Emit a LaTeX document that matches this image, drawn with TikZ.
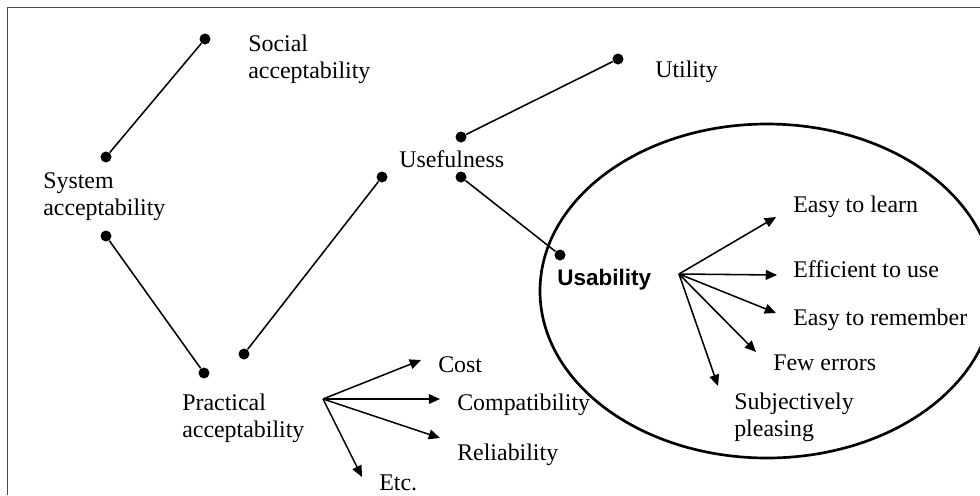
\documentclass[tikz,border=0pt]{standalone}
\usepackage{fontspec}
\setmainfont{Liberation Serif}
\newfontfamily\usabfont{Liberation Sans}
\usetikzlibrary{arrows.meta,shapes,calc}

\begin{document}
\begin{tikzpicture}[x=0.025cm, y=-0.025cm,
    dot/.style={circle, fill, inner sep=0pt, minimum size=0.275cm},
    lbl/.style={anchor=base west, inner sep=0pt, align=left, font=\fontsize{17}{18.8}\selectfont},
    link/.style={line width=1.1pt},
    arr/.style={line width=1.1pt, -{Triangle[length=8pt, width=7pt]}}]
		\useasboundingbox (0,0) rectangle (980,495);
		\draw[gray!60!black, line width=0.7pt] (980,7) -- (7,7) -- (7,495);
		\draw[line width=1.9pt] (767,291) ellipse [x radius=227, y radius=167];

		% dots
		\path (205,39) node[dot] (soc) {}
		(106,157) node[dot] (sys1) {}
		(106,236) node[dot] (sys2) {}
		(204,373) node[dot] (prac1) {}
		(244,354) node[dot] (prac2) {}
		(382,177) node[dot] (usef0) {}
		(461,137) node[dot] (usef1) {}
		(461,177) node[dot] (usef2) {}
		(618,59) node[dot] (util) {}
		(560,255) node[dot] (usab) {};

		% labels (two-line ones sit on their last baseline)
		\path (248,78) node[lbl] (socl) {Social\\acceptability}
		(43,215) node[lbl] (sysl) {System\\acceptability}
		(182,437) node[lbl] (pracl) {Practical\\acceptability}
		(399,167) node[lbl] (usefl) {Usefulness}
		(655,77) node[lbl] (utill) {Utility}
		(557,285) node[lbl, font=\usabfont\bfseries\fontsize{16}{18}\selectfont] (usabl) {Usability}
		(793,212) node[lbl] (learn) {Easy to learn}
		(793,277) node[lbl] (eff) {Efficient to use}
		(793,325) node[lbl] (rem) {Easy to remember}
		(773,370) node[lbl] (few) {Few errors}
		(734,436) node[lbl] (subj) {Subjectively\\pleasing}
		(438,372) node[lbl] (cost) {Cost}
		(457,410) node[lbl] (compat) {Compatibility}
		(457,460) node[lbl] (rel) {Reliability}
		(379,490) node[lbl] (etc) {Etc.};

		% fan points and arrow tips
		\coordinate (ufan) at (679,274);
		\coordinate (pfan) at (323,399);
		\coordinate (learnt) at (776,217);
		\coordinate (efft) at (777,275);
		\coordinate (remt) at (776,313);
		\coordinate (fewt) at (756,352);
		\coordinate (subjt) at (718,386);
		\coordinate (costt) at (421,360);
		\coordinate (compatt) at (440,399);
		\coordinate (relt) at (440,438);
		\coordinate (etct) at (362,477);

		\draw[link] (sys1) -- (soc);
		\draw[link] (sys2) -- (prac1);
		\draw[link] (prac2) -- (usef0);
		\draw[link] (usef1) -- (util);
		\draw[link] (usef2) -- (usab);

		\draw[arr] (ufan) -- (learnt);
		\draw[arr] (ufan) -- (efft);
		\draw[arr] (ufan) -- (remt);
		\draw[arr] (ufan) -- (fewt);
		\draw[arr] (ufan) -- (subjt);
		\draw[arr] (pfan) -- (costt);
		\draw[arr] (pfan) -- (compatt);
		\draw[arr] (pfan) -- (relt);
		\draw[arr] (pfan) -- (etct);
	\end{tikzpicture}
\end{document}
